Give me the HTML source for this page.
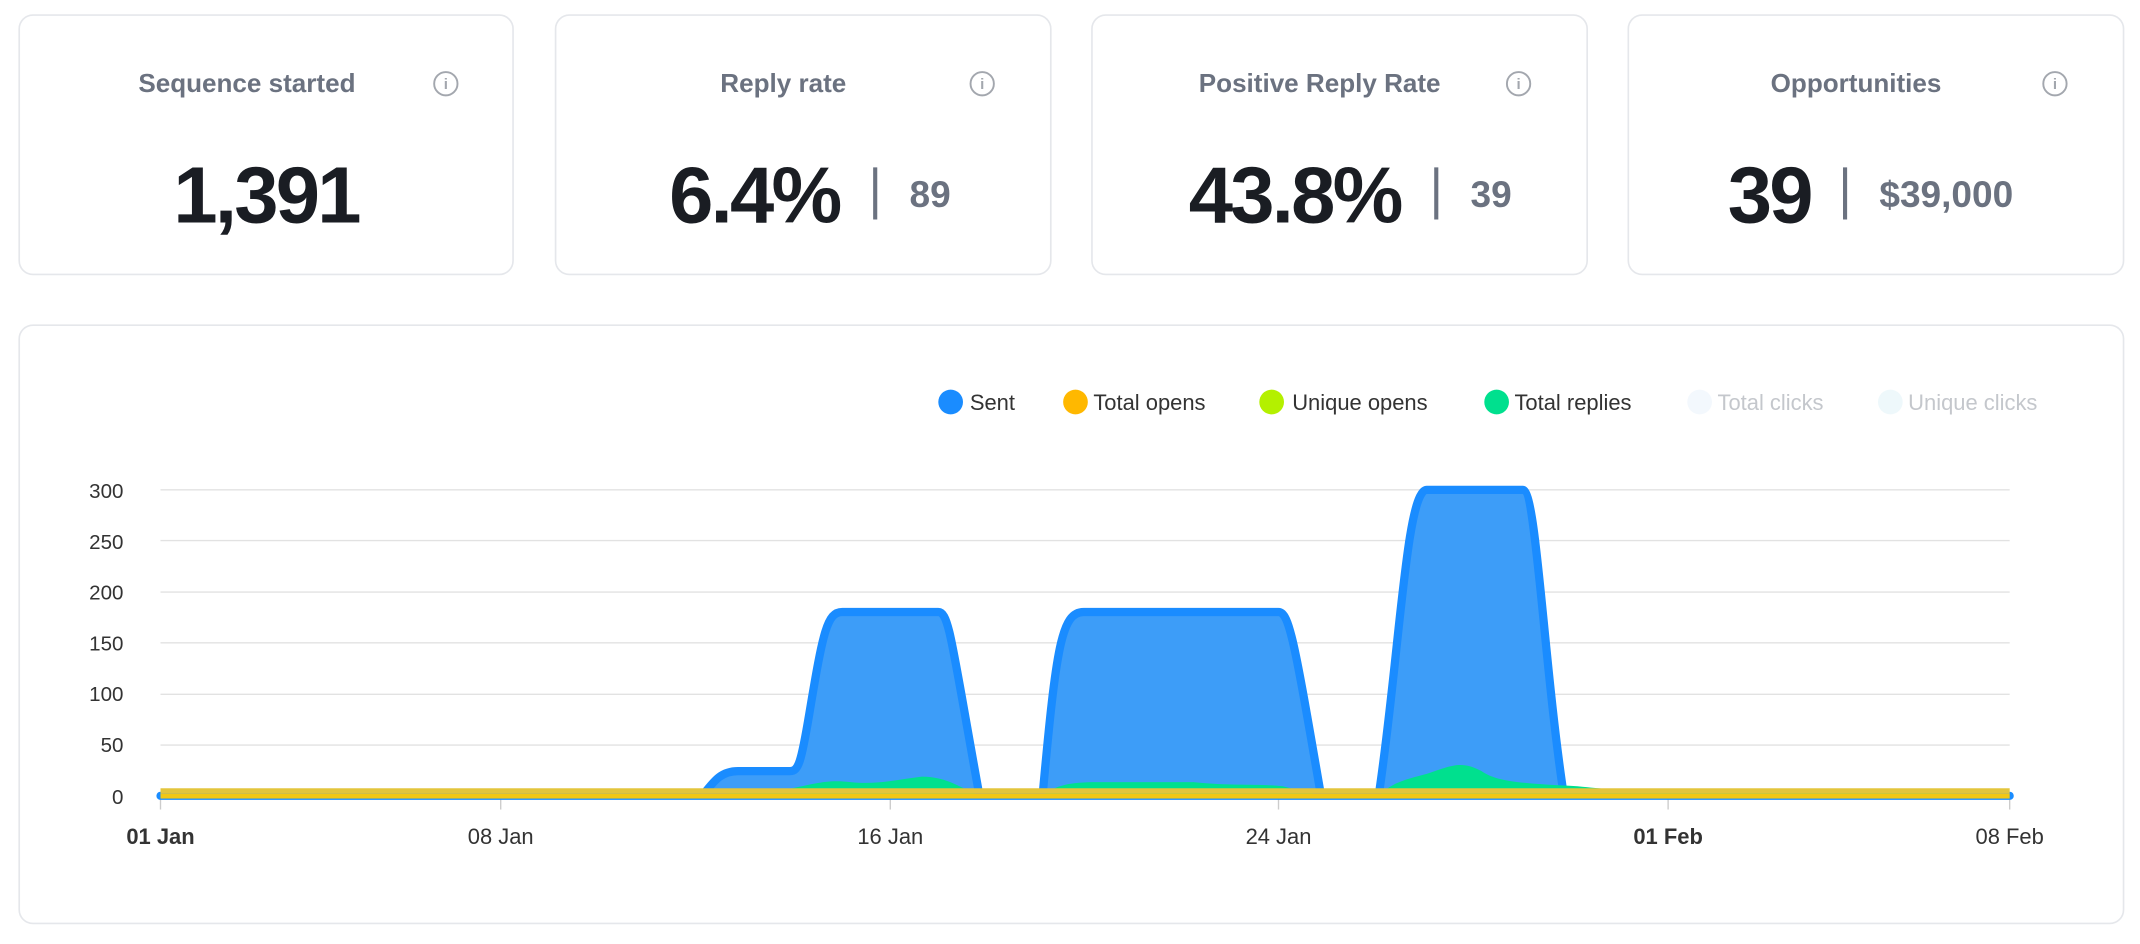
<!DOCTYPE html>
<html><head><meta charset="utf-8"><style>
html,body{margin:0;padding:0;background:#fff;}
svg{display:block;}
text{font-family:"Liberation Sans",sans-serif;}
</style></head><body>
<svg width="2140" height="944" viewBox="0 0 1560 688" preserveAspectRatio="none" xmlns="http://www.w3.org/2000/svg">
<rect width="1560" height="688" fill="#fff"/>
<g fill="#fff" stroke="#e5e7eb" stroke-width="1.2">
<rect x="14" y="11" width="360" height="189" rx="10"/>
<rect x="405" y="11" width="361" height="189" rx="10"/>
<rect x="796" y="11" width="361" height="189" rx="10"/>
<rect x="1187" y="11" width="361" height="189" rx="10"/>
<rect x="14" y="237" width="1534" height="436" rx="10"/>
</g>
<g font-weight="bold" font-size="19" fill="#6b7280" text-anchor="middle">
<text x="180" y="67">Sequence started</text>
<text x="571" y="67">Reply rate</text>
<text x="962" y="67">Positive Reply Rate</text>
<text x="1353" y="67">Opportunities</text>
</g>
<g fill="none" stroke="#a3a7ae" stroke-width="1.4">
<circle cx="325" cy="61" r="8.5"/><circle cx="716" cy="61" r="8.5"/><circle cx="1107" cy="61" r="8.5"/><circle cx="1498" cy="61" r="8.5"/>
</g>
<g font-size="11" font-weight="bold" fill="#a3a7ae" text-anchor="middle">
<text x="325" y="65">i</text><text x="716" y="65">i</text><text x="1107" y="65">i</text><text x="1498" y="65">i</text>
</g>
<g font-weight="bold" font-size="58" fill="#1a1d23" letter-spacing="-2">
<text x="194" y="162" text-anchor="middle">1,391</text>
<text x="612" y="162" text-anchor="end">6.4%</text>
<text x="1021" y="162" text-anchor="end">43.8%</text>
<text x="1320" y="162" text-anchor="end">39</text>
</g>
<g stroke="#6b7280" stroke-width="3">
<line x1="638" y1="122" x2="638" y2="160"/><line x1="1047" y1="122" x2="1047" y2="160"/><line x1="1345" y1="122" x2="1345" y2="160"/>
</g>
<g font-weight="bold" font-size="27" fill="#6b7280">
<text x="663" y="151">89</text><text x="1072" y="151">39</text><text x="1370" y="151">$39,000</text>
</g>
<g font-size="16">
<circle cx="693" cy="293" r="9" fill="#1a8cff"/><text x="707" y="299" fill="#333">Sent</text>
<circle cx="784" cy="293" r="9" fill="#ffb800"/><text x="797" y="299" fill="#333">Total opens</text>
<circle cx="927" cy="293" r="9" fill="#b4f000"/><text x="942" y="299" fill="#333">Unique opens</text>
<circle cx="1091" cy="293" r="9" fill="#00e08e"/><text x="1104" y="299" fill="#333">Total replies</text>
<circle cx="1239" cy="293" r="9" fill="#f3f8fd"/><text x="1252" y="299" fill="#c4c7cc">Total clicks</text>
<circle cx="1378" cy="293" r="9" fill="#eef8fb"/><text x="1391" y="299" fill="#c4c7cc">Unique clicks</text>
</g>
<g stroke="#e2e2e2" stroke-width="1">
<line x1="117" y1="357" x2="1465" y2="357"/><line x1="117" y1="394" x2="1465" y2="394"/>
<line x1="117" y1="431.5" x2="1465" y2="431.5"/><line x1="117" y1="468.5" x2="1465" y2="468.5"/>
<line x1="117" y1="506" x2="1465" y2="506"/><line x1="117" y1="543" x2="1465" y2="543"/>
<line x1="117" y1="580" x2="1465" y2="580"/>
</g>
<g font-size="15" fill="#333" text-anchor="end">
<text x="90" y="363">300</text><text x="90" y="400">250</text><text x="90" y="437">200</text>
<text x="90" y="474">150</text><text x="90" y="511">100</text><text x="90" y="548">50</text><text x="90" y="586">0</text>
</g>
<g stroke="#ccc" stroke-width="1">
<line x1="117" y1="582" x2="117" y2="590"/><line x1="365" y1="582" x2="365" y2="590"/><line x1="649" y1="582" x2="649" y2="590"/>
<line x1="932" y1="582" x2="932" y2="590"/><line x1="1216" y1="582" x2="1216" y2="590"/><line x1="1465" y1="582" x2="1465" y2="590"/>
</g>
<g font-size="16" fill="#333" text-anchor="middle">
<text x="117" y="615" font-weight="bold">01 Jan</text><text x="365" y="615">08 Jan</text><text x="649" y="615">16 Jan</text>
<text x="932" y="615">24 Jan</text><text x="1216" y="615" font-weight="bold">01 Feb</text><text x="1465" y="615">08 Feb</text>
</g>
<path d="M117,580 L512,580 C520,570 525,562 538,562 L576,562 C582,562 584,556 590,520 C600,460 603,446 614,446 L684,446 C692,446 694,470 714,580 L760,580 C770,470 774,446 790,446 L932,446 C940,446 944,470 963,580 L1005,580 C1020,480 1025,357 1040,357 L1110,357 C1120,357 1125,480 1140,580 L1465,580 Z" fill="#3d9df8" stroke="#1a8cff" stroke-width="6" stroke-linejoin="round"/>
<path d="M512,580 L575,575 C595,571 603,568 620,570 C640,572 655,568 672,566 C690,566 700,574 714,580 L760,580 C770,572 780,570 800,570 L870,570 C900,573 915,571 935,573 L963,580 L1005,580 C1015,570 1025,568 1040,564 C1058,558 1065,554 1080,562 C1090,569 1105,571 1150,573 C1180,576 1200,578 1260,577 C1270,574 1282,574 1300,578 L1340,576 C1380,576 1400,578 1465,580 Z" fill="#00e08e"/>
<rect x="117" y="574.5" width="1348" height="4" fill="#e3c53c"/>
<rect x="117" y="578.5" width="1348" height="3.5" fill="#f2c715"/>
</svg>
</body></html>
